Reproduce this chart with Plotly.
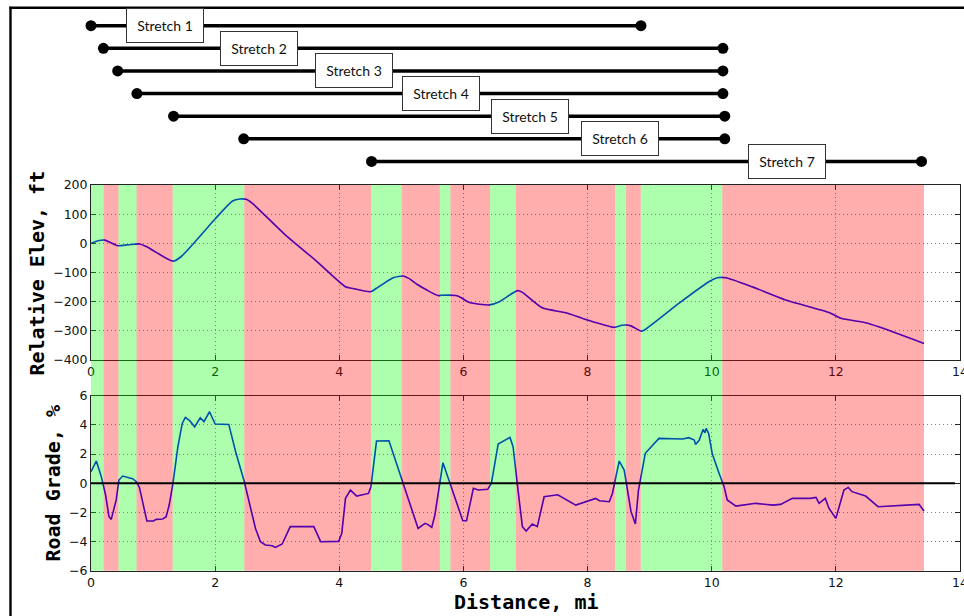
import plotly.graph_objects as go

# ---------------- data ----------------
ELEV_MI = [0, 0.10, 0.22, 0.32, 0.43, 0.60, 0.78, 0.90, 1.05, 1.32, 1.45, 2.01, 2.28, 2.40, 2.50,
           2.60, 3.13, 3.61, 4.10, 4.20, 4.50, 4.60, 4.87, 5.03, 5.12, 5.27, 5.59, 5.65, 5.88,
           5.95, 6.10, 6.42, 6.58, 6.87, 6.95, 7.27, 7.65, 7.97, 8.43, 8.55, 8.62, 8.70, 8.86,
           8.91, 9.47, 9.96, 10.09, 10.23, 10.65, 11.19, 11.89, 12.08, 12.48, 12.69, 13.42]
ELEV_FT = [0, 8, 11, 2, -8, -5, -2, -12, -31, -61, -46, 86, 145, 152, 151,
           137, 29, -57, -149, -154, -166, -154, -118, -112, -120, -143, -179, -178, -179,
           -185, -203, -211, -200, -162, -168, -221, -238, -261, -288, -281, -280, -283, -301,
           -298, -206, -131, -118, -118, -149, -194, -237, -257, -272, -286, -343]

GRADE_MI = [0, 0.086, 0.166, 0.235, 0.29, 0.326, 0.406, 0.45, 0.51, 0.59, 0.67, 0.73, 0.78, 0.90,
            1.005, 1.05, 1.155, 1.21, 1.26, 1.32, 1.40, 1.47, 1.52, 1.59, 1.67, 1.76, 1.82, 1.91,
            2.0, 2.22, 2.33, 2.47, 2.60, 2.65, 2.73, 2.81, 2.92, 2.97, 3.08, 3.21, 3.59, 3.70,
            3.99, 4.04, 4.10, 4.18, 4.28, 4.47, 4.51, 4.60, 4.80, 5.01, 5.11, 5.27, 5.38, 5.43,
            5.49, 5.54, 5.67, 5.80, 5.91, 5.99, 6.05, 6.16, 6.24, 6.39, 6.45, 6.56, 6.75, 6.80,
            6.87, 6.95, 7.01, 7.11, 7.19, 7.30, 7.38, 7.52, 7.81, 7.92, 8.13, 8.19, 8.35, 8.40,
            8.51, 8.59, 8.70, 8.77, 8.82, 8.93, 9.15, 9.53, 9.63, 9.72, 9.74, 9.80, 9.86, 9.89,
            9.91, 9.95, 10.01, 10.12, 10.20, 10.25, 10.39, 10.71, 10.98, 11.11, 11.30, 11.59,
            11.68, 11.73, 11.83, 11.89, 12.0, 12.13, 12.20, 12.26, 12.48, 12.68, 13.34, 13.42]
GRADE_PCT = [0.79, 1.52, 0.45, -0.81, -2.3, -2.48, -1.15, 0.22, 0.49, 0.40, 0.31, 0.10, -0.29, -2.59,
             -2.59, -2.48, -2.46, -2.3, -1.5, -0.01, 2.5, 4.1, 4.51, 4.29, 3.87, 4.49, 4.22, 4.90,
             4.06, 4.03, 2.16, 0.1, -2.07, -3.10, -4.01, -4.24, -4.29, -4.40, -4.17, -2.98, -2.98, -4.01,
             -3.99, -3.44, -1.04, -0.47, -0.88, -0.70, -0.24, 2.89, 2.91, 0.22, -1.15, -3.10, -2.75, -2.84,
             -3.03, -2.18, 1.41, -0.24, -1.49, -2.57, -2.57, -0.35, -0.47, -0.42, -0.01, 2.69, 3.14, 2.50,
             -0.13, -2.98, -3.28, -2.80, -2.98, -0.93, -0.88, -0.79, -1.50, -1.34, -1.04, -1.20, -1.27, -0.70,
             1.52, 0.90, -1.95, -2.80, -0.47, 2.05, 3.07, 3.03, 3.12, 2.96, 2.66, 2.96, 3.69, 3.46,
             3.76, 3.42, 2.0, 0.67, -0.24, -1.15, -1.57, -1.38, -1.50, -1.45, -1.04, -1.04,
             -0.97, -1.38, -1.04, -1.73, -2.41, -0.47, -0.29, -0.58, -0.88, -1.61, -1.45, -1.91]

SEG_START = [0, 0.203, 0.444, 0.733, 1.316, 2.47, 4.51, 5.005, 5.62, 5.79, 6.43, 6.845, 8.444, 8.62, 8.857, 10.17]
SEG_END = [0.203, 0.444, 0.733, 1.316, 2.47, 4.51, 5.005, 5.62, 5.79, 6.43, 6.845, 8.444, 8.62, 8.857, 10.17, 13.42]
SEG_KIND = ["up", "down", "up", "down", "up", "down", "up", "down", "up", "down", "up", "down", "up", "down", "up", "down"]

STRETCH_NAMES = ["Stretch 1", "Stretch 2", "Stretch 3", "Stretch 4", "Stretch 5", "Stretch 6", "Stretch 7"]
STRETCH_START = [0, 0.2, 0.43, 0.74, 1.33, 2.46, 4.52]
STRETCH_END = [8.86, 10.18, 10.18, 10.18, 10.21, 10.21, 13.38]
STRETCH_LABEL_X = [1.20, 2.71, 4.24, 5.64, 7.08, 8.52, 11.21]
STRETCH_ROW = [1, 2, 3, 4, 5, 6, 7]

ZERO_LINE_X = [0, 13.92]

X_TICKS = [0, 2, 4, 6, 8, 10, 12, 14]
ELEV_TICKS = [200, 100, 0, -100, -200, -300, -400]
GRADE_TICKS = [6, 4, 2, 0, -2, -4, -6]

# ---------------- figure ----------------
W, H = 964, 616
ML, MR, MT, MB = 91, 4, 8, 45
PH = H - MT - MB
PW = W - ML - MR


def py(p):  # pixel row -> paper y
    return 1 - (p - MT) / PH


def px(p):  # pixel col -> paper x
    return (p - ML) / PW


fig = go.Figure()

fig.add_trace(go.Scatter(x=ELEV_MI, y=ELEV_FT, mode="lines", xaxis="x", yaxis="y",
                         line=dict(color="#0000ff", width=1.6, shape="spline", smoothing=0.6),
                         showlegend=False))
fig.add_trace(go.Scatter(x=GRADE_MI, y=GRADE_PCT, mode="lines", xaxis="x2", yaxis="y2",
                         line=dict(color="#0000ff", width=1.6), showlegend=False))

# stretch rows: row r sits at pixel 25.7 + (r-1)*22.63 ; panel spans pixels MT..180
ROW_PX0, ROW_STEP = 25.7, 22.63
r_top = 1 + (MT - ROW_PX0) / ROW_STEP
r_bot = 1 + (180 - ROW_PX0) / ROW_STEP

for i, name in enumerate(STRETCH_NAMES):
    fig.add_trace(go.Scatter(x=[STRETCH_START[i], STRETCH_END[i]], y=[STRETCH_ROW[i], STRETCH_ROW[i]],
                             mode="lines+markers", xaxis="x3", yaxis="y3", cliponaxis=False,
                             line=dict(color="black", width=3.5),
                             marker=dict(color="black", size=11), showlegend=False))
    fig.add_annotation(x=STRETCH_LABEL_X[i], y=STRETCH_ROW[i], xref="x3", yref="y3",
                       text=name, showarrow=False, bgcolor="white", bordercolor="#333",
                       borderwidth=1, borderpad=4, width=68, height=25,
                       font=dict(family="Lato", size=14, color="#111"))

shapes = []
for s, e, k in zip(SEG_START, SEG_END, SEG_KIND):
    shapes.append(dict(type="rect", xref="x", yref="paper", x0=s, x1=e,
                       y0=py(570.7), y1=py(185), line=dict(width=0),
                       fillcolor="#00ff00" if k == "up" else "#ff0000",
                       opacity=0.32, layer="above"))
shapes.append(dict(type="line", xref="x2", yref="y2", x0=ZERO_LINE_X[0], x1=ZERO_LINE_X[1],
                   y0=0, y1=0, line=dict(color="black", width=2), layer="above"))
# outer frame of the screenshot
shapes.append(dict(type="line", xref="paper", yref="paper", x0=px(9.3), x1=px(970),
                   y0=py(7.7), y1=py(7.7), line=dict(color="black", width=2.4)))
shapes.append(dict(type="line", xref="paper", yref="paper", x0=px(10.5), x1=px(10.5),
                   y0=py(6.7), y1=py(630), line=dict(color="black", width=2.4)))

fig.update_layout(shapes=shapes)

tickfont = dict(family="DejaVu Sans", size=12.5, color="#111")
axis_common = dict(showline=True, linecolor="#222", linewidth=1, mirror="ticks",
                   ticks="inside", ticklen=5, tickcolor="#222", tickwidth=1,
                   showgrid=True, gridcolor="rgba(0,0,0,0.5)", griddash="1px,3px", gridwidth=1,
                   zeroline=False, tickfont=tickfont)

fig.update_layout(
    width=W, height=H,
    margin=dict(l=ML, r=MR, t=MT, b=MB, autoexpand=False),
    paper_bgcolor="white", plot_bgcolor="white",
    xaxis=dict(domain=[0, 1], anchor="y", range=[0, 14], tickvals=X_TICKS,
               ticklabeloverflow="allow", **axis_common),
    yaxis=dict(domain=[py(360), py(185)], anchor="x", range=[-400, 200], tickvals=ELEV_TICKS,
               **axis_common),
    xaxis2=dict(domain=[0, 1], anchor="y2", range=[0, 14], tickvals=X_TICKS, matches="x",
                ticklabeloverflow="allow", **axis_common),
    yaxis2=dict(domain=[py(570.7), py(395.7)], anchor="x2", range=[-6, 6], tickvals=GRADE_TICKS,
                **axis_common),
    xaxis3=dict(domain=[0, 1], anchor="y3", range=[0, 14], visible=False, matches="x"),
    yaxis3=dict(domain=[py(180), 1], anchor="x3", range=[r_bot, r_top], visible=False),
)

title_font = dict(family="DejaVu Sans Mono", size=20, color="black")
fig.add_annotation(text="<b>Relative Elev, ft</b>", xref="paper", yref="paper",
                   x=px(36.5), y=py(273), textangle=-90, showarrow=False,
                   xanchor="center", yanchor="middle", font=title_font)
fig.add_annotation(text="<b>Road Grade, %</b>", xref="paper", yref="paper",
                   x=px(52.5), y=py(483), textangle=-90, showarrow=False,
                   xanchor="center", yanchor="middle", font=title_font)
fig.add_annotation(text="<b>Distance, mi</b>", xref="paper", yref="paper",
                   x=px(526), y=py(602), showarrow=False,
                   xanchor="center", yanchor="middle", font=title_font)

fig.write_html(
    "out.html",
    config={"displayModeBar": False},
    post_script="document.body.style.margin='0';document.body.style.overflow='hidden';"
                "document.documentElement.style.overflow='hidden';",
)
